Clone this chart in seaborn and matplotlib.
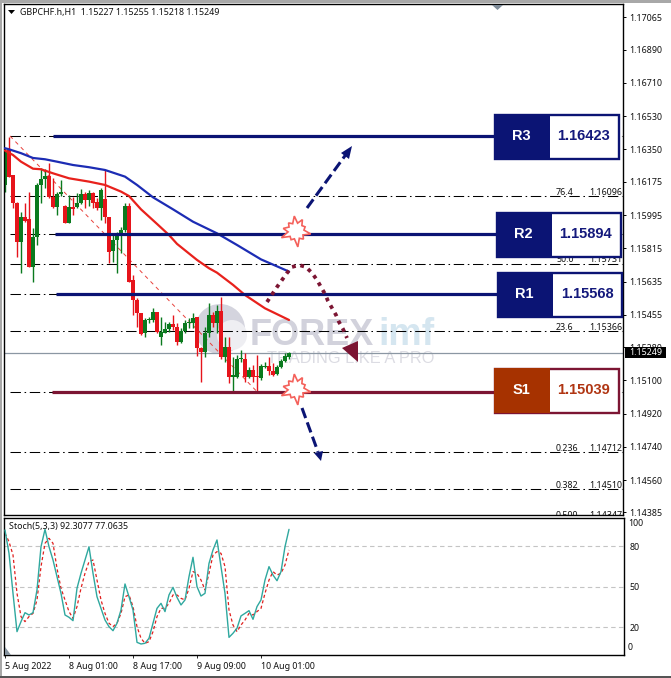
import numpy as np
import pandas as pd
import matplotlib
matplotlib.use("Agg")
import matplotlib.pyplot as plt
import seaborn as sns
from matplotlib.patches import Rectangle, Polygon, Circle
from matplotlib.transforms import Affine2D

W, H = 671, 678

# candles, in points (1e-5 of the price)
open_pts = [116158, 116348, 116212, 116059, 115851, 115987, 115974, 115712, 115878, 116158, 116189, 116207,
            116091, 116041, 116109, 116044, 115954, 116037, 116037, 116059, 116109, 116077, 116113, 116068,
            116032, 116080, 115983, 115802, 115860, 115896, 115914, 116044, 115644, 115535, 115463, 115355,
            115427, 115427, 115469, 115337, 115358, 115376, 115405, 115387, 115310, 115369, 115413, 115409,
            115441, 115274, 115256, 115355, 115454, 115413, 115478, 115228, 115283, 115120, 115120, 115216,
            115214, 115120, 115156, 115120, 115111, 115174, 115178, 115153, 115135, 115174, 115207, 115227]
high_pts = [116357, 116420, 116212, 116068, 116014, 116059, 116122, 115923, 116167, 116248, 116243, 116275,
            116194, 116122, 116185, 116050, 116104, 116095, 116113, 116135, 116122, 116131, 116122, 116086,
            116140, 116239, 115987, 115896, 115905, 115932, 116059, 116062, 115671, 115544, 115467, 115436,
            115445, 115490, 115472, 115445, 115418, 115418, 115454, 115409, 115382, 115427, 115436, 115467,
            115445, 115283, 115391, 115517, 115472, 115508, 115553, 115337, 115337, 115225, 115237, 115265,
            115247, 115174, 115183, 115237, 115189, 115201, 115225, 115192, 115183, 115214, 115247, 115255]
low_pts = [116122, 116200, 116032, 115770, 115683, 115959, 115712, 115635, 115833, 116059, 116140, 116086,
           116032, 115996, 116098, 115950, 115950, 115996, 116032, 116055, 116032, 116044, 116032, 116023,
           115969, 115950, 115734, 115743, 115683, 115788, 115905, 115635, 115454, 115391, 115346, 115337,
           115409, 115418, 115355, 115292, 115355, 115364, 115373, 115292, 115301, 115355, 115382, 115382,
           115232, 115093, 115228, 115337, 115391, 115355, 115214, 115201, 115084, 115039, 115111, 115201,
           115093, 115111, 115093, 115039, 115102, 115165, 115129, 115124, 115129, 115165, 115198, 115218]
close_pts = [116339, 116203, 116059, 115851, 115987, 115965, 115712, 115878, 116158, 116189, 116207, 116091,
             116037, 116109, 116120, 115950, 116037, 116026, 116059, 116109, 116077, 116113, 116062, 116032,
             116131, 115983, 115797, 115860, 115896, 115914, 116044, 115635, 115535, 115463, 115351, 115427,
             115432, 115472, 115364, 115364, 115376, 115405, 115387, 115310, 115369, 115413, 115418, 115436,
             115274, 115256, 115355, 115454, 115409, 115478, 115228, 115283, 115120, 115129, 115214, 115219,
             115120, 115156, 115117, 115117, 115178, 115178, 115153, 115129, 115174, 115207, 115232, 115249]

# moving averages, sampled at bar numbers
ma_blue_bars = [0, 1, 4, 7, 10, 13, 17, 21, 25, 30, 33, 37, 42, 47, 53, 58, 64, 71]
ma_blue_pts = [116357, 116351, 116330, 116304, 116297, 116284, 116266, 116254, 116239, 116203, 116158, 116091,
               116026, 115959, 115896, 115833, 115755, 115689]
ma_red_bars = [0, 2, 4, 7, 9, 12, 16, 21, 25, 29, 31, 34, 38, 41, 43, 48, 51, 53, 57, 60, 65, 71]
ma_red_pts = [116344, 116320, 116284, 116246, 116243, 116221, 116194, 116176, 116158, 116122, 116098, 116026,
              115947, 115887, 115839, 115752, 115707, 115683, 115617, 115562, 115490, 115427]

stoch_k = [91.8, 74.6, 45.1, 16.8, 24.2, 30.8, 29.1, 30.8, 47.6, 79.5, 92.3, 79.5,
           69.7, 57.4, 45.1, 29.1, 27.4, 24.9, 48.8, 59.9, 69.7, 79.5, 59.9, 42.6,
           34.0, 25.4, 20.5, 17.5, 23.0, 32.8, 52.0, 42.6, 32.8, 8.9, 7.7, 8.2,
           11.9, 23.0, 34.0, 37.7, 31.6, 43.9, 49.5, 42.1, 36.5, 40.2, 57.4, 71.7,
           50.0, 43.1, 45.1, 67.2, 77.1, 84.5, 64.8, 45.1, 12.6, 15.6, 19.3, 28.4,
           30.3, 32.3, 25.9, 35.3, 40.2, 54.9, 64.8, 58.6, 54.4, 61.1, 79.5, 92.3]
stoch_d = [89.4, 83.2, 73.4, 45.1, 27.9, 24.2, 27.9, 30.3, 40.2, 64.8, 82.0, 85.7,
           82.0, 63.5, 48.8, 40.2, 31.6, 26.6, 35.3, 48.8, 59.9, 68.5, 69.7, 54.9,
           40.2, 30.3, 23.0, 20.5, 23.0, 30.3, 42.6, 43.9, 35.3, 20.5, 11.9, 8.2,
           9.4, 16.8, 27.9, 34.0, 34.0, 37.7, 43.9, 43.9, 41.4, 40.2, 48.8, 61.1,
           59.9, 54.9, 47.6, 59.9, 73.4, 75.9, 74.6, 64.8, 32.8, 21.7, 16.8, 21.7,
           25.4, 30.3, 29.1, 31.6, 34.0, 45.1, 54.9, 61.1, 58.6, 59.9, 66.0, 77.1]

# fibonacci grid
fib_prices = [1.16423, 1.16096, 1.15894, 1.15731, 1.15568, 1.15366, 1.15039, 1.14712, 1.14510, 1.14347]
fib_labels = ["", "76.4", "", "50.0", "", "23.6", "", "0.236", "0.382", "0.500"]

level_names = ["R3", "R2", "R1", "S1"]
level_prices = [1.16423, 1.15894, 1.15568, 1.15039]
last_price = 1.15249

price_ticks = [1.17065, 1.16890, 1.16710, 1.16530, 1.16350, 1.16175, 1.15995, 1.15815,
               1.15635, 1.15455, 1.15280, 1.15100, 1.14920, 1.14740, 1.14560, 1.14385]
time_bars = [0, 16, 32, 48, 64]
time_labels = ["5 Aug 2022", "8 Aug 01:00", "8 Aug 17:00", "9 Aug 09:00", "10 Aug 01:00"]

NAVY = "#0b1474"
MAROON = "#7c1533"
TXT = "#111111"
FS = 6.4
ARIAL = "Liberation Sans"

sns.set_theme(style="white")
plt.rcParams["font.family"] = ["Noto Sans", "DejaVu Sans"]

fig = plt.figure(figsize=(W / 100, H / 100), dpi=100, facecolor="white")
ax = fig.add_axes([4 / W, 1 - 515 / H, 619 / W, 511 / H])
ax2 = fig.add_axes([4 / W, 1 - 655 / H, 620 / W, 137 / H])

# everything that sits at a screen position goes through this
px = Affine2D().scale(1, -1).translate(0, H)


def to_bar(x):
    return (x - 5) / 4


ax.set_xlim(to_bar(4), to_bar(623))
ax.set_ylim(1.16423 - 379 / 18470, 1.16423 + 132 / 18470)
ax2.set_xlim(to_bar(4), to_bar(624))
ax2.set_ylim(-0.44, 100.7)

# watermark first, under the chart
ax.add_patch(Circle((220, 329), 25, transform=px, fc="#d4d4de", ec="none", zorder=0.2))
ax.add_patch(Circle((232, 335), 15, transform=px, fc="#eeeef2", ec="none", zorder=0.3))
ax.text(250, 345, "FOREX", transform=px, fontsize=26, fontweight="bold", family=ARIAL, color="#d2d2dc", zorder=0.4)
ax.text(378, 345, "imf", transform=px, fontsize=27, fontweight="bold", family=ARIAL, color="#d5e6f0", zorder=0.4)
ax.text(267, 363, "TRADING LIKE A PRO", transform=px, fontsize=11.8, family=ARIAL, color="#dcdce3", zorder=0.4)

# fibonacci lines and texts
bars = np.arange(len(open_pts))
for price, label in zip(fib_prices, fib_labels):
    ax.plot([to_bar(10), to_bar(622)], [price, price], color="black", lw=0.75,
            ls=(0, (10, 3.5, 1.5, 3.5)), zorder=1)
    if label:
        y_px = 136 + (1.16423 - price) * 18470
        ax.text(556, y_px + 0.5, label, transform=px, fontsize=FS, color=TXT, va="bottom", clip_on=True,
                clip_box=ax.bbox, zorder=1.1)
        ax.text(622, y_px + 0.5, f"{price:.5f}", transform=px, fontsize=FS, color=TXT, ha="right", va="bottom",
                clip_on=True, clip_box=ax.bbox, zorder=1.1)
ax.plot([to_bar(10), to_bar(257)], [fib_prices[0], fib_prices[6]], color="#e8413c", lw=0.7,
        ls=(0, (4, 4)), zorder=1.2)

ax.axhline(last_price, color="#8b97a3", lw=0.9, zorder=1.3)

# candles
o, h, l, c = [np.array(v) / 1e5 for v in (open_pts, high_pts, low_pts, close_pts)]
colors = np.where(c >= o, "#0a7a1e", "#e6141b")
ax.vlines(bars, l, h, colors=colors, lw=1.0, zorder=2)
ax.bar(bars, np.maximum(np.abs(c - o), 5e-5), bottom=np.minimum(o, c), width=0.82, color=colors, lw=0, zorder=2.1)

df_blue = pd.DataFrame({"bar": ma_blue_bars, "price": np.array(ma_blue_pts) / 1e5})
df_red = pd.DataFrame({"bar": ma_red_bars, "price": np.array(ma_red_pts) / 1e5})
sns.lineplot(data=df_blue, x="bar", y="price", ax=ax, color="#1c2cb4", lw=1.6, errorbar=None, zorder=3)
sns.lineplot(data=df_red, x="bar", y="price", ax=ax, color="#e8211c", lw=1.6, errorbar=None, zorder=3)

# support / resistance lines and boxes
line_from = [53, 55, 56, 52]
box_left = [494, 496, 497, 494]
box_top = [114, 212, 272, 368]
for name, price, x0, bl, bt in zip(level_names, level_prices, line_from, box_left, box_top):
    support = name.startswith("S")
    edge = MAROON if support else NAVY
    fill = "#a63200" if support else NAVY
    value_color = "#b03512" if support else "#14197c"
    ax.plot([to_bar(x0), to_bar(bl)], [price, price], color=edge, lw=2.3, solid_capstyle="butt", zorder=4)
    ax.add_patch(Rectangle((bl + 1, bt + 1), 124, 43.5, transform=px, fc="white", ec=edge, lw=1.7, zorder=5,
                           clip_on=False))
    ax.add_patch(Rectangle((bl, bt), 56, 45, transform=px, fc=fill, ec="none", zorder=5.1, clip_on=False))
    ax.text(bl + 27, bt + 22.5, name, transform=px, color="white", fontsize=10.5, fontweight="bold",
            family=ARIAL, ha="center", va="center", zorder=6)
    ax.text(bl + 90, bt + 22.5, f"{price:.5f}", transform=px, color=value_color, fontsize=10.5, fontweight="bold",
            family=ARIAL, ha="center", va="center", zorder=6)


def burst(cx, cy):
    outer = [15, 11, 16, 10, 16, 13, 11, 15, 13, 10]
    ang = np.linspace(0, 2 * np.pi, 20, endpoint=False) + 0.2
    rad = np.empty(20)
    rad[::2] = outer
    rad[1::2] = 8
    pts = np.column_stack([cx + rad * np.cos(ang), cy + rad * np.sin(ang)])
    ax.add_patch(Polygon(pts, closed=True, transform=px, fc="white", ec="#f4605a", lw=1.2, zorder=7))


burst(296, 231)
burst(296, 389)

# forecast arrows
ax.plot([307, 347], [208, 153], transform=px, color=NAVY, lw=2.2, ls=(0, (3.5, 1.5)), zorder=6.5)
ax.add_patch(Polygon([[352, 146], [341, 153], [349, 159]], transform=px, fc=NAVY, ec="none", zorder=6.5))
ax.plot([302, 318], [408, 452], transform=px, color=NAVY, lw=2.2, ls=(0, (3.5, 1.5)), zorder=6.5)
ax.add_patch(Polygon([[321, 461], [314, 453], [323, 451]], transform=px, fc=NAVY, ec="none", zorder=6.5))

arc_x = [267, 273, 277, 282, 287, 292, 299, 306, 312, 317, 321, 325, 328, 332, 336, 339, 343, 347]
arc_y = [302, 293, 287, 280, 273, 267, 265, 267, 273, 280, 287, 294, 301, 308, 315, 322, 329, 338]
ax.plot(arc_x, arc_y, transform=px, color=MAROON, lw=2.7, ls=(0, (1, 1.3)), zorder=6.5)
ax.add_patch(Polygon([[342, 348], [358, 341], [358, 362]], transform=px, fc=MAROON, ec="none", zorder=6.5))

# chart corner bits
ax.add_patch(Polygon([[8, 10], [15, 10], [11.5, 14]], transform=px, fc="black", ec="none", zorder=8))
ax.text(20, 12.5, "GBPCHF.h,H1  1.15227 1.15255 1.15218 1.15249", transform=px, fontsize=FS, color=TXT,
        va="center", zorder=8)
ax.add_patch(Polygon([[492, 5], [503, 5], [497.5, 10]], transform=px, fc="#7f8c99", ec="none", zorder=8))

# price axis
ax.yaxis.tick_right()
ax.set_yticks(price_ticks)
ax.set_yticklabels([f"{t:.5f}" for t in price_ticks], fontsize=FS, color=TXT)
ax.tick_params(axis="y", length=2.2, width=0.7, pad=2, color="black", right=True, left=False)
ax.tick_params(axis="x", bottom=False, labelbottom=False)
ax.set_xlabel("")
ax.set_ylabel("")
ax.yaxis.set_label_position("right")
ax.add_patch(Rectangle((625, 347), 41, 11, transform=px, fc="black", ec="none", zorder=9, clip_on=False))
ax.text(645.5, 352.5, f"{last_price:.5f}", transform=px, color="white", fontsize=FS, fontweight="bold",
        ha="center", va="center", zorder=10)

# stochastic panel
for level in [80, 50, 20]:
    ax2.axhline(level, color="#c4c4c4", lw=0.8, ls=(0, (4, 3)), zorder=1)
df_stoch = pd.DataFrame({"bar": bars, "k": stoch_k, "d": stoch_d})
sns.lineplot(data=df_stoch, x="bar", y="d", ax=ax2, color="#e0201e", lw=0.9, ls=(0, (2.5, 2)), errorbar=None, zorder=2)
sns.lineplot(data=df_stoch, x="bar", y="k", ax=ax2, color="#2fa89f", lw=1.0, errorbar=None, zorder=3)
ax2.text(9, 526, "Stoch(5,3,3) 92.3077 77.0635", transform=px, fontsize=FS, color=TXT, va="center")
ax2.add_patch(Polygon([[5, 655], [5, 647], [11, 655]], transform=px, fc="#8794a0", ec="none", zorder=4))
ax2.yaxis.tick_right()
ax2.set_yticks([80, 50, 20])
ax2.set_yticklabels(["80", "50", "20"], fontsize=FS, color=TXT)
ax2.tick_params(axis="y", length=0, pad=4)
ax2.text(628, 524, "100", transform=px, fontsize=FS, color=TXT, va="center")
ax2.text(628, 648, "0", transform=px, fontsize=FS, color=TXT, va="center")
ax2.set_xticks(time_bars)
ax2.set_xticklabels(time_labels, fontsize=FS, color=TXT, ha="left")
ax2.tick_params(axis="x", length=2.2, width=0.7, pad=2.5, bottom=True)
ax2.set_xlabel("")
ax2.set_ylabel("")

for a in (ax, ax2):
    for s in a.spines.values():
        s.set_visible(True)
        s.set_color("black")
        s.set_linewidth(1.0)

# window frame
fig.add_artist(Rectangle((0, 0), 671, 3, transform=px, fc="#a8a8a8", ec="none"))
fig.add_artist(Rectangle((0, 0), 2, 678, transform=px, fc="#a8a8a8", ec="none"))
fig.add_artist(Rectangle((0, 676), 671, 2, transform=px, fc="#555555", ec="none"))

fig.savefig("out.png", dpi=100)
